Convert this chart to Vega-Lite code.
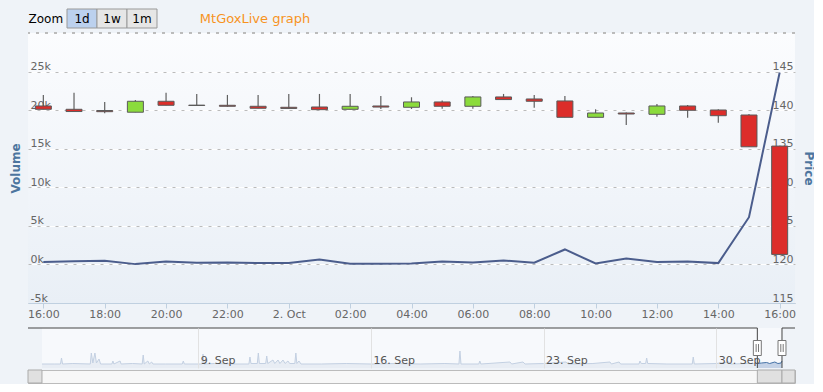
{
  "$schema": "https://vega.github.io/schema/vega-lite/v6.json",
  "background": "#eff3f8",
  "padding": {"left": 9, "top": 8, "right": 0, "bottom": 0},
  "config": {
    "font": "DejaVu Sans",
    "view": {"stroke": null}
  },
  "resolve": {"scale": {"fill": "independent"}},
  "datasets": {
    "buttons": [
      {"btn": "1d", "state": "selected", "row": "Zoom"},
      {"btn": "1w", "state": "normal", "row": "Zoom"},
      {"btn": "1m", "state": "normal", "row": "Zoom"}
    ],
    "candles": [
      {"t": "2013-10-01T16:00:00Z", "open": 140.54, "high": 141.97, "low": 140.1, "close": 140.11, "dir": "down", "volume": 300},
      {"t": "2013-10-01T17:00:00Z", "open": 140.11, "high": 142.27, "low": 139.82, "close": 139.82, "dir": "down", "volume": 400},
      {"t": "2013-10-01T18:00:00Z", "open": 139.95, "high": 141.06, "low": 139.6, "close": 139.8, "dir": "down", "volume": 480},
      {"t": "2013-10-01T19:00:00Z", "open": 139.73, "high": 141.3, "low": 139.73, "close": 141.15, "dir": "up", "volume": 40},
      {"t": "2013-10-01T20:00:00Z", "open": 141.15, "high": 142.27, "low": 140.63, "close": 140.63, "dir": "down", "volume": 390},
      {"t": "2013-10-01T21:00:00Z", "open": 140.65, "high": 142.1, "low": 140.6, "close": 140.6, "dir": "down", "volume": 220},
      {"t": "2013-10-01T22:00:00Z", "open": 140.63, "high": 141.97, "low": 140.45, "close": 140.5, "dir": "down", "volume": 260},
      {"t": "2013-10-01T23:00:00Z", "open": 140.5, "high": 141.97, "low": 140.24, "close": 140.24, "dir": "down", "volume": 170},
      {"t": "2013-10-02T00:00:00Z", "open": 140.37, "high": 142.1, "low": 140.19, "close": 140.22, "dir": "down", "volume": 170},
      {"t": "2013-10-02T01:00:00Z", "open": 140.41, "high": 142.1, "low": 140.06, "close": 140.06, "dir": "down", "volume": 650},
      {"t": "2013-10-02T02:00:00Z", "open": 140.11, "high": 142.1, "low": 140.11, "close": 140.5, "dir": "up", "volume": 80},
      {"t": "2013-10-02T03:00:00Z", "open": 140.54, "high": 141.84, "low": 140.15, "close": 140.4, "dir": "down", "volume": 80},
      {"t": "2013-10-02T04:00:00Z", "open": 140.37, "high": 141.67, "low": 140.15, "close": 141.06, "dir": "up", "volume": 120},
      {"t": "2013-10-02T05:00:00Z", "open": 141.06, "high": 141.24, "low": 140.19, "close": 140.5, "dir": "down", "volume": 390},
      {"t": "2013-10-02T06:00:00Z", "open": 140.5, "high": 141.84, "low": 140.19, "close": 141.71, "dir": "up", "volume": 260},
      {"t": "2013-10-02T07:00:00Z", "open": 141.71, "high": 142.1, "low": 141.37, "close": 141.37, "dir": "down", "volume": 520},
      {"t": "2013-10-02T08:00:00Z", "open": 141.45, "high": 141.97, "low": 140.32, "close": 141.15, "dir": "down", "volume": 220},
      {"t": "2013-10-02T09:00:00Z", "open": 141.19, "high": 141.84, "low": 139.07, "close": 139.07, "dir": "down", "volume": 1940},
      {"t": "2013-10-02T10:00:00Z", "open": 139.07, "high": 140.11, "low": 139.07, "close": 139.63, "dir": "up", "volume": 130},
      {"t": "2013-10-02T11:00:00Z", "open": 139.63, "high": 139.7, "low": 138.07, "close": 139.5, "dir": "down", "volume": 780},
      {"t": "2013-10-02T12:00:00Z", "open": 139.46, "high": 140.8, "low": 139.15, "close": 140.54, "dir": "up", "volume": 300},
      {"t": "2013-10-02T13:00:00Z", "open": 140.54, "high": 140.67, "low": 139.02, "close": 139.98, "dir": "down", "volume": 390},
      {"t": "2013-10-02T14:00:00Z", "open": 140.02, "high": 140.11, "low": 138.37, "close": 139.28, "dir": "down", "volume": 170},
      {"t": "2013-10-02T15:00:00Z", "open": 139.37, "high": 139.5, "low": 135.25, "close": 135.25, "dir": "down", "volume": 6120},
      {"t": "2013-10-02T16:00:00Z", "open": 135.34, "high": 135.4, "low": 121.3, "close": 121.3, "dir": "down", "volume": 24880}
    ],
    "navAll": [
      {"t": "2013-09-02T16:00:00Z", "v": 4},
      {"t": "2013-09-03T04:00:00Z", "v": 4},
      {"t": "2013-09-03T10:00:00Z", "v": 4},
      {"t": "2013-09-03T11:00:00Z", "v": 10},
      {"t": "2013-09-03T12:00:00Z", "v": 4},
      {"t": "2013-09-03T22:00:00Z", "v": 4.5},
      {"t": "2013-09-04T15:00:00Z", "v": 4},
      {"t": "2013-09-04T16:00:00Z", "v": 15},
      {"t": "2013-09-04T17:30:00Z", "v": 5},
      {"t": "2013-09-04T19:30:00Z", "v": 15},
      {"t": "2013-09-04T21:00:00Z", "v": 5},
      {"t": "2013-09-04T23:30:00Z", "v": 9},
      {"t": "2013-09-05T01:00:00Z", "v": 4},
      {"t": "2013-09-05T12:00:00Z", "v": 4},
      {"t": "2013-09-05T13:00:00Z", "v": 7},
      {"t": "2013-09-05T14:00:00Z", "v": 4},
      {"t": "2013-09-05T20:00:00Z", "v": 7},
      {"t": "2013-09-05T21:00:00Z", "v": 4},
      {"t": "2013-09-06T08:00:00Z", "v": 4.5},
      {"t": "2013-09-06T17:30:00Z", "v": 4},
      {"t": "2013-09-06T18:30:00Z", "v": 13},
      {"t": "2013-09-06T19:30:00Z", "v": 4},
      {"t": "2013-09-06T23:00:00Z", "v": 7},
      {"t": "2013-09-07T00:30:00Z", "v": 4},
      {"t": "2013-09-07T02:40:00Z", "v": 6},
      {"t": "2013-09-07T04:00:00Z", "v": 4},
      {"t": "2013-09-07T16:00:00Z", "v": 4},
      {"t": "2013-09-08T08:30:00Z", "v": 4},
      {"t": "2013-09-08T09:30:00Z", "v": 7},
      {"t": "2013-09-08T10:30:00Z", "v": 4},
      {"t": "2013-09-08T20:00:00Z", "v": 4},
      {"t": "2013-09-09T03:40:00Z", "v": 4},
      {"t": "2013-09-09T04:40:00Z", "v": 14},
      {"t": "2013-09-09T05:40:00Z", "v": 4},
      {"t": "2013-09-09T16:00:00Z", "v": 4.5},
      {"t": "2013-09-10T12:00:00Z", "v": 4},
      {"t": "2013-09-11T01:20:00Z", "v": 4},
      {"t": "2013-09-11T02:20:00Z", "v": 11},
      {"t": "2013-09-11T03:20:00Z", "v": 4.5},
      {"t": "2013-09-11T09:30:00Z", "v": 4.5},
      {"t": "2013-09-11T10:30:00Z", "v": 15},
      {"t": "2013-09-11T11:30:00Z", "v": 4.5},
      {"t": "2013-09-11T17:40:00Z", "v": 4.5},
      {"t": "2013-09-11T18:40:00Z", "v": 12},
      {"t": "2013-09-11T19:40:00Z", "v": 4.5},
      {"t": "2013-09-12T00:45:00Z", "v": 8},
      {"t": "2013-09-12T02:30:00Z", "v": 4.5},
      {"t": "2013-09-12T05:40:00Z", "v": 8},
      {"t": "2013-09-12T07:30:00Z", "v": 4.5},
      {"t": "2013-09-12T10:30:00Z", "v": 8},
      {"t": "2013-09-12T12:30:00Z", "v": 4.5},
      {"t": "2013-09-12T15:20:00Z", "v": 7},
      {"t": "2013-09-12T17:00:00Z", "v": 4.5},
      {"t": "2013-09-12T22:00:00Z", "v": 4.5},
      {"t": "2013-09-12T23:00:00Z", "v": 15},
      {"t": "2013-09-13T00:00:00Z", "v": 4.5},
      {"t": "2013-09-13T02:00:00Z", "v": 7},
      {"t": "2013-09-13T04:00:00Z", "v": 4},
      {"t": "2013-09-14T00:00:00Z", "v": 4},
      {"t": "2013-09-15T00:00:00Z", "v": 4.5},
      {"t": "2013-09-16T00:00:00Z", "v": 4},
      {"t": "2013-09-17T00:00:00Z", "v": 4.5},
      {"t": "2013-09-18T00:00:00Z", "v": 4},
      {"t": "2013-09-19T00:00:00Z", "v": 4.5},
      {"t": "2013-09-19T13:40:00Z", "v": 4},
      {"t": "2013-09-19T14:40:00Z", "v": 17},
      {"t": "2013-09-19T15:40:00Z", "v": 4},
      {"t": "2013-09-20T09:00:00Z", "v": 4},
      {"t": "2013-09-20T10:00:00Z", "v": 7},
      {"t": "2013-09-20T11:00:00Z", "v": 4},
      {"t": "2013-09-21T15:20:00Z", "v": 6},
      {"t": "2013-09-21T17:00:00Z", "v": 4},
      {"t": "2013-09-22T04:00:00Z", "v": 6},
      {"t": "2013-09-22T06:00:00Z", "v": 4},
      {"t": "2013-09-23T00:00:00Z", "v": 4.5},
      {"t": "2013-09-23T21:50:00Z", "v": 6},
      {"t": "2013-09-24T00:00:00Z", "v": 4},
      {"t": "2013-09-25T00:00:00Z", "v": 4.5},
      {"t": "2013-09-25T16:40:00Z", "v": 6},
      {"t": "2013-09-25T18:00:00Z", "v": 4},
      {"t": "2013-09-26T01:30:00Z", "v": 6},
      {"t": "2013-09-26T03:00:00Z", "v": 4},
      {"t": "2013-09-26T20:50:00Z", "v": 4},
      {"t": "2013-09-26T21:50:00Z", "v": 7},
      {"t": "2013-09-26T23:00:00Z", "v": 4.5},
      {"t": "2013-09-27T03:20:00Z", "v": 4.5},
      {"t": "2013-09-27T04:20:00Z", "v": 10},
      {"t": "2013-09-27T05:20:00Z", "v": 4.5},
      {"t": "2013-09-28T00:00:00Z", "v": 4},
      {"t": "2013-09-29T00:40:00Z", "v": 4},
      {"t": "2013-09-29T01:40:00Z", "v": 11},
      {"t": "2013-09-29T02:40:00Z", "v": 4},
      {"t": "2013-09-30T00:00:00Z", "v": 4.5},
      {"t": "2013-09-30T12:30:00Z", "v": 6},
      {"t": "2013-09-30T14:00:00Z", "v": 4},
      {"t": "2013-10-01T06:00:00Z", "v": 4.5},
      {"t": "2013-10-01T16:00:00Z", "v": 4.5}
    ],
    "navSel": [
      {"t": "2013-10-01T16:00:00Z", "v": 4.5},
      {"t": "2013-10-01T20:00:00Z", "v": 5},
      {"t": "2013-10-02T01:00:00Z", "v": 5.5},
      {"t": "2013-10-02T04:00:00Z", "v": 4.5},
      {"t": "2013-10-02T09:00:00Z", "v": 6},
      {"t": "2013-10-02T12:00:00Z", "v": 4.5},
      {"t": "2013-10-02T15:00:00Z", "v": 5},
      {"t": "2013-10-02T16:00:00Z", "v": 7}
    ],
    "navRange": [{"from": "2013-09-02T16:00:00Z", "to": "2013-10-02T16:00:00Z"}],
    "mask": [
      {"a": "2013-09-02T02:24:00Z", "b": "2013-10-01T16:00:00Z"},
      {"a": "2013-10-02T16:00:00Z", "b": "2013-10-03T04:39:00Z"}
    ],
    "edges": [{"e": "2013-10-01T16:00:00Z"}, {"e": "2013-10-02T16:00:00Z"}],
    "scroll": [
      {"part": "left", "from": "2013-09-02T02:24:00Z", "to": "2013-09-02T16:00:00Z", "row": "bar"},
      {"part": "thumb", "from": "2013-10-01T16:00:00Z", "to": "2013-10-02T16:00:00Z", "row": "bar"},
      {"part": "right", "from": "2013-10-02T16:00:00Z", "to": "2013-10-03T04:39:00Z", "row": "bar"}
    ]
  },
  "spacing": 3,
  "vconcat": [
    {
      "width": 129,
      "height": 19,
      "data": {"name": "buttons"},
      "title": {"text": "MtGoxLive graph", "orient": "right", "angle": 0, "align": "left", "baseline": "middle", "anchor": "middle", "offset": -68, "color": "#f7931e", "fontSize": 13, "fontWeight": "normal", "font": "DejaVu Sans"},
      "encoding": {
        "x": {"field": "btn", "type": "nominal", "sort": null, "scale": {"paddingInner": 0, "paddingOuter": 0.65, "align": 1}, "axis": null},
        "y": {"field": "row", "type": "nominal", "scale": {"paddingInner": 0, "paddingOuter": 0},
          "axis": {"title": null, "domain": false, "ticks": false, "labelAlign": "left", "labelPadding": 0, "labelFontSize": 12, "labelColor": "#000000"}}
      },
      "layer": [
        {"mark": {"type": "rect", "stroke": "#999999", "strokeWidth": 1},
         "encoding": {"fill": {"field": "state", "type": "nominal", "scale": {"domain": ["selected", "normal"], "range": ["#bcd1ee", "#e6e6e6"]}, "legend": null}}},
        {"mark": {"type": "text", "fontSize": 12, "font": "DejaVu Sans", "color": "#000000"}, "encoding": {"text": {"field": "btn"}}}
      ]
    },
    {
      "spacing": 8,
      "resolve": {"scale": {"fill": "independent"}},
      "vconcat": [
        {
          "width": 767,
          "height": 270,
          "view": {"stroke": null, "fill": {"gradient": "linear", "x1": 0, "y1": 0, "x2": 0, "y2": 1, "stops": [{"offset": 0, "color": "#fbfcfe"}, {"offset": 1, "color": "#e9eff6"}]}},
          "data": {"name": "candles"},
          "layer": [
            {
              "layer": [
                {"mark": {"type": "rule", "color": "#606060", "strokeWidth": 1.2},
                 "encoding": {
                   "x": {"field": "t", "type": "temporal",
                     "scale": {"type": "utc", "domain": [1380641400000, 1380731400000], "padding": 0},
                     "axis": {"title": null, "grid": false, "domainColor": "#c0d0e0", "tickColor": "#c0d0e0", "tickSize": 5, "labelColor": "#666666", "labelFontSize": 11, "labelBaseline": "alphabetic", "labelPadding": 9, "labelFlush": false, "labelOverlap": false,
                       "values": [1380643200000, 1380650400000, 1380657600000, 1380664800000, 1380672000000, 1380679200000, 1380686400000, 1380693600000, 1380700800000, 1380708000000, 1380715200000, 1380722400000, 1380729600000],
                       "format": "%H:%M",
                       "labelExpr": "datum.label == '00:00' ? '2. Oct' : datum.label"}},
                   "y": {"field": "low", "type": "quantitative", "scale": {"domain": [115, 150], "nice": false, "zero": false},
                     "axis": {"orient": "right", "title": "Price", "titleColor": "#4d759e", "titleFontSize": 12, "titlePadding": 6,
                       "values": [115, 120, 125, 130, 135, 140, 145],
                       "labelAlign": "right", "labelBaseline": "alphabetic", "labelPadding": -2, "labelOffset": -2, "labelColor": "#666666", "labelFontSize": 11,
                       "labelFlush": false, "labelOverlap": false, "domain": false, "ticks": false,
                       "grid": true, "gridColor": "#ffffff"}},
                   "y2": {"field": "high"}}},
                {"mark": {"type": "bar", "size": 16, "stroke": "#5a5a5a", "strokeWidth": 1},
                 "encoding": {
                   "x": {"field": "t", "type": "temporal"},
                   "y": {"field": "open", "type": "quantitative"},
                   "y2": {"field": "close"},
                   "fill": {"field": "dir", "type": "nominal", "scale": {"domain": ["down", "up"], "range": ["#dc2d2a", "#8bdb3c"]}, "legend": null}}}
              ]
            },
            {
              "layer": [
                {"mark": {"type": "rule", "color": "#bbbbbb", "strokeDash": [3, 6], "strokeWidth": 1},
                 "encoding": {"y": {"datum": 30000, "type": "quantitative"}}},
                {"mark": {"type": "line", "color": "#4b5d8c", "strokeWidth": 2},
                 "encoding": {
                   "x": {"field": "t", "type": "temporal"},
                   "y": {"field": "volume", "type": "quantitative", "scale": {"domain": [-5000, 30000], "nice": false, "zero": false},
                     "axis": {"orient": "left", "title": "Volume", "titleColor": "#4d759e", "titleFontSize": 12, "titlePadding": 6,
                       "values": [-5000, 0, 5000, 10000, 15000, 20000, 25000],
                       "labelExpr": "(datum.value / 1000) + 'k'",
                       "labelAlign": "left", "labelBaseline": "alphabetic", "labelPadding": -2, "labelOffset": -2, "labelColor": "#666666", "labelFontSize": 11,
                       "labelFlush": false, "labelOverlap": false, "domain": false, "ticks": false,
                       "grid": true, "gridColor": "#bbbbbb", "gridDash": [3, 6]}}}}
              ]
            }
          ],
          "resolve": {"scale": {"y": "independent"}}
        },
        {
          "spacing": 0,
          "vconcat": [
            {
              "width": 767,
              "height": 40,
              "layer": [
                {"data": {"name": "navRange"}, "mark": {"type": "rect", "fill": "#f7f9fc"},
                 "encoding": {
                   "x": {"field": "from", "type": "temporal",
                     "scale": {"type": "utc", "domain": [1378088640000, 1380775140000], "padding": 0},
                     "axis": {"title": null, "values": [1378684800000, 1379289600000, 1379894400000, 1380499200000],
                       "format": "%-d. %b", "grid": true, "gridColor": "#e2e2e2", "domain": false, "ticks": false, "zindex": 1,
                       "labelAlign": "left", "labelBaseline": "alphabetic", "labelPadding": -5, "labelOffset": 2, "labelColor": "#555555", "labelFontSize": 11, "labelFlush": false, "labelOverlap": false}},
                   "x2": {"field": "to"}}},
                {"data": {"name": "navAll"}, "mark": {"type": "area", "color": "#e1e8f1", "line": {"color": "#c3d0e2", "strokeWidth": 1}},
                 "encoding": {
                   "x": {"field": "t", "type": "temporal"},
                   "y": {"field": "v", "type": "quantitative", "scale": {"domain": [0, 40], "nice": false}, "axis": null}}},
                {"data": {"name": "navSel"},
                 "mark": {"type": "area", "color": "#aec2dd", "line": {"color": "#4572a7", "strokeWidth": 1}},
                 "encoding": {"x": {"field": "t", "type": "temporal"}, "y": {"field": "v", "type": "quantitative"}}},
                {"data": {"name": "mask"}, "mark": {"type": "rule", "color": "#444444", "strokeWidth": 1},
                 "encoding": {"x": {"field": "a", "type": "temporal"}, "x2": {"field": "b"}, "y": {"datum": 40, "type": "quantitative"}}},
                {"data": {"name": "edges"}, "mark": {"type": "rule", "color": "#444444", "strokeWidth": 1},
                 "encoding": {"x": {"field": "e", "type": "temporal"}}},
                {"data": {"name": "edges"}, "mark": {"type": "point", "shape": "M-0.53,-1H0.53V1H-0.53Z M-0.16,-0.53V0.53 M0.16,-0.53V0.53", "size": 225, "filled": true, "fill": "#ffffff", "stroke": "#777777", "strokeWidth": 1, "opacity": 1},
                 "encoding": {"x": {"field": "e", "type": "temporal"}}}
              ]
            },
            {
              "width": 767,
              "height": 13,
              "view": {"stroke": "#bbbbbb", "fill": "#f7f7f7"},
              "data": {"name": "scroll"},
              "layer": [
                {"mark": {"type": "rect", "stroke": "#aaaaaa", "strokeWidth": 1, "fill": "#e0e0e0"},
                 "encoding": {
                   "x": {"field": "from", "type": "temporal",
                     "scale": {"type": "utc", "domain": [1378088640000, 1380775140000], "padding": 0},
                     "axis": null},
                   "x2": {"field": "to"}}}
              ]
            }
          ]
        }
      ]
    }
  ]
}
